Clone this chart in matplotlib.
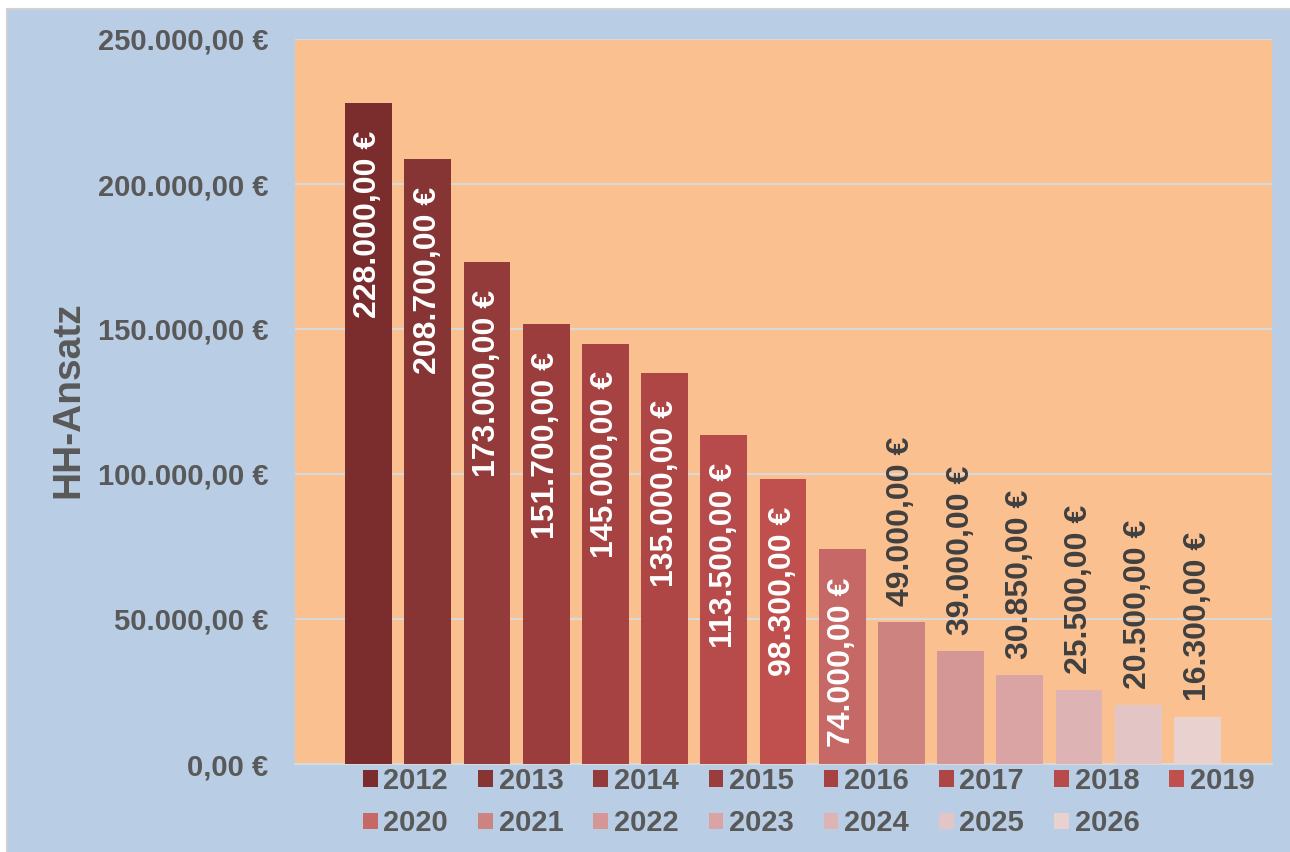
import matplotlib
matplotlib.use("Agg")
import matplotlib.pyplot as plt
from matplotlib.patches import Rectangle, Patch
import numpy as np

years = [str(y) for y in range(2012, 2027)]
values = [228000, 208700, 173000, 151700, 145000, 135000, 113500, 98300,
          74000, 49000, 39000, 30850, 25500, 20500, 16300]
colors = ["#7B2D2D", "#873434", "#933A3A", "#9B3D3D", "#A64242", "#AE4646",
          "#B74A4A", "#C0504D", "#C66866", "#CD8380", "#D49796", "#D9A4A3",
          "#DDB4B3", "#E4C5C5", "#E9D1CF"]
inside = [True] * 9 + [False] * 6
y_ticks = [0, 50000, 100000, 150000, 200000, 250000]

plt.rcParams['font.family'] = ['Liberation Sans', 'DejaVu Sans']
plt.rcParams['font.weight'] = 'bold'

GREY = "#595959"
BLUE = "#B9CDE5"
ORANGE = "#FAC090"
GRID = "#D9D9D9"


def euro(v):
    s = f"{v:,.2f}".replace(",", "X").replace(".", ",").replace("X", ".")
    return s + " €"


fig = plt.figure(figsize=(12.9, 8.52), dpi=100, facecolor="white")
# blue chart area, grey border visible only on the left and top edges
fig.patches.append(Rectangle((7 / 1290, -0.02), 1.05, 1.02 - 9 / 852,
                             transform=fig.transFigure, facecolor=BLUE,
                             edgecolor="#D0D0D0", linewidth=1.5, zorder=-10))
ax = fig.add_axes([295 / 1290, 1 - 764 / 852, (1272 - 295) / 1290, (764 - 39) / 852])
ax.set_facecolor(ORANGE)

x = np.arange(len(values))
bars = ax.bar(x, values, width=0.79, color=colors, zorder=3, label=years)

for xi, v, inn in zip(x, values, inside):
    if inn:
        ax.annotate(euro(v), (xi, v), xytext=(0, -20), textcoords="offset points",
                    rotation=90, ha="center", va="top", color="white",
                    fontsize=23, fontweight="bold", zorder=4)
    else:
        ax.annotate(euro(v), (xi, v), xytext=(0, 11.5), textcoords="offset points",
                    rotation=90, ha="center", va="bottom", color="#404040",
                    fontsize=23, fontweight="bold", zorder=4)

ax.set_ylim(0, 250000)
ax.set_xlim(-1.241, 15.258)
ax.set_yticks(y_ticks)
ax.set_yticklabels([euro(v) for v in y_ticks], fontsize=21, color=GREY,
                   fontweight="bold")
ax.set_xticks([])
ax.tick_params(axis="y", length=0, pad=19)
ax.yaxis.grid(True, color=GRID, linewidth=1.5, zorder=0)
for s in ["left", "right", "top"]:
    ax.spines[s].set_visible(False)
ax.spines["bottom"].set_color(GRID)
ax.spines["bottom"].set_linewidth(1.5)

fig.text(68 / 1290, 1 - 400 / 852, "HH-Ansatz", rotation=90, ha="center",
         va="center", fontsize=28, color=GREY, fontweight="bold")

# legend: row-major order across 8 columns
handles = [Patch(facecolor=c) for c in colors]
order = []
for k in range(8):
    order.append(k)
    if k + 8 < len(years):
        order.append(k + 8)
leg = fig.legend([handles[i] for i in order], [years[i] for i in order],
                 ncol=8, loc="upper left", bbox_to_anchor=(360 / 1290, 1 - 764 / 852),
                 frameon=False, fontsize=21, handlelength=0.5, handleheight=0.5,
                 handletextpad=0.2, columnspacing=1.03, labelspacing=0.49,
                 borderpad=0.1, borderaxespad=0)
for t in leg.get_texts():
    t.set_color(GREY)
    t.set_fontweight("bold")

fig.savefig("out.png", dpi=100, facecolor=fig.get_facecolor())
